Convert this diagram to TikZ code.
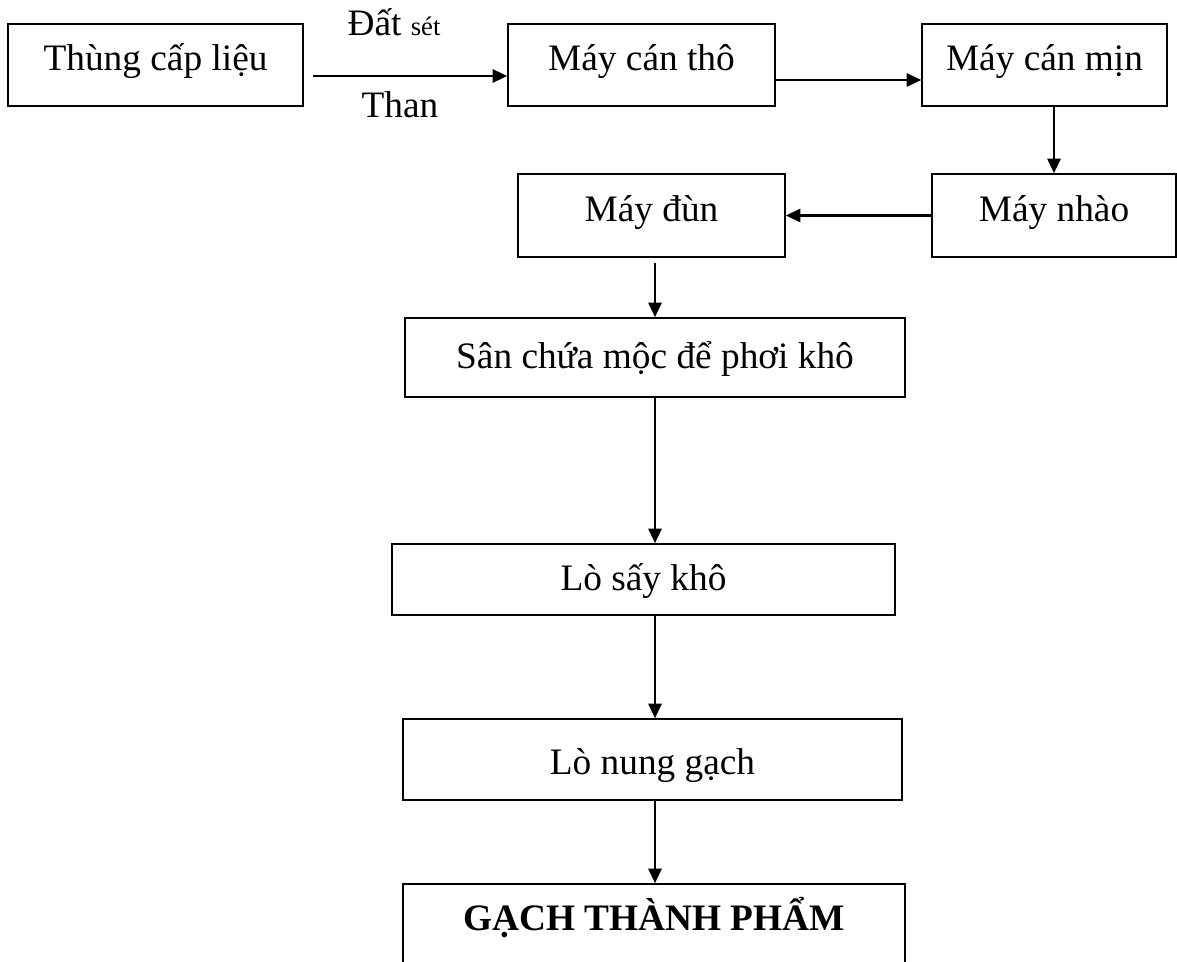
\documentclass[tikz,border=0pt]{standalone}
\usepackage{fontspec}
\setmainfont{Liberation Serif}
\usetikzlibrary{arrows.meta}
\begin{document}
\begin{tikzpicture}[x=0.75pt,y=-0.75pt]
        \tikzstyle{stage}=[draw,line width=1.2pt,inner sep=0,minimum height=61.5pt,font=\fontsize{28}{32}\selectfont,text height=20pt,text depth=11pt]
        \tikzstyle{flow}=[line width=1.6pt,-{Triangle[length=11pt,width=10pt]}]
        \tikzstyle{tag}=[font=\fontsize{28}{32}\selectfont,anchor=base,inner sep=0]

        \useasboundingbox (0,0) rectangle (1177,962);
        \clip (0,0) rectangle (1177,962);

        % Stages of the line
        \node[stage,minimum width=221.25pt](thung) at (155.5,65){Thùng cấp liệu};
        \node[stage,minimum width=200.25pt](canTho) at (641.5,65){Máy cán thô};
        \node[stage,minimum width=183.75pt](canMin) at (1044.5,65){Máy cán mịn};
        \node[stage,minimum width=183pt,minimum height=62.25pt](nhao) at (1054,215.5){Máy nhào};
        \node[stage,minimum width=200.25pt,minimum height=62.25pt](dun) at (651.5,215.5){Máy đùn};
        \node[stage,minimum width=375pt,minimum height=59.25pt,text height=24pt,text depth=8pt](san) at (655,357.5){Sân chứa mộc để phơi khô};
        \node[stage,minimum width=377.25pt,minimum height=53.25pt,text height=24pt,text depth=8pt](say) at (643.5,579.5){Lò sấy khô};
        \node[stage,minimum width=374.25pt,minimum height=60.75pt,text height=28pt,text depth=5pt](nung) at (652.5,759.5){Lò nung gạch};
        \node[stage,minimum width=376.5pt,minimum height=78pt,text height=10pt,text depth=19pt,font=\fontsize{28}{32}\selectfont\bfseries](gach) at (654,936){GẠCH THÀNH PHẨM};

        % Raw materials
        \node[tag](datset) at (394,36){Đất {\fontsize{20}{24}\selectfont sét}};
        \node[tag](than) at (400,118){Than};

        % Flow arrows
        \coordinate (spine) at (655,0);
        \draw[flow,shorten <=6.75pt] ([yshift=-8.25pt]thung.east) -- ([yshift=-8.25pt]canTho.west);
        \draw[flow] ([yshift=-11.25pt]canTho.east) -- ([yshift=-11.25pt]canMin.west);
        \draw[flow] (nhao.north |- canMin.south) -- (nhao.north);
        \draw[flow] (nhao.west) -- (dun.east);
        \draw[flow,shorten <=3.75pt] (dun.south -| spine) -- (san.north -| spine);
        \draw[flow] (san.south -| spine) -- (say.north -| spine);
        \draw[flow] (say.south -| spine) -- (nung.north -| spine);
        \draw[flow] (nung.south -| spine) -- (gach.north -| spine);
    \end{tikzpicture}
\end{document}
